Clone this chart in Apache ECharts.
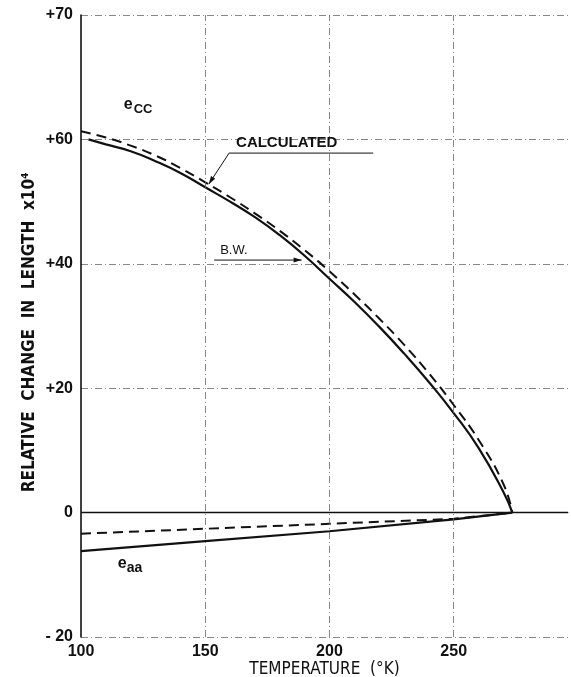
<!DOCTYPE html>
<html>
<head>
<meta charset="utf-8">
<script src="https://cdn.jsdelivr.net/npm/echarts@6/dist/echarts.min.js"></script>
<style>
html,body{margin:0;padding:0;background:#fff;}
#c{width:571px;height:677px;}
</style>
</head>
<body>
<div id="c"></div>
<script>
// ---- data ----
const tempCcBW   = [103, 110, 120, 130, 140, 150, 160, 170, 180, 190, 200, 210, 220, 230, 240, 250, 260, 270, 273.6];
const eccBW      = [60.0, 59.2, 58.1, 56.5, 54.6, 52.3, 50.0, 47.5, 44.6, 41.3, 37.6, 33.9, 29.9, 25.6, 21.0, 16.0, 10.4, 3.3, 0];
const tempCcCalc = [100, 110, 120, 130, 140, 150, 160, 170, 180, 190, 200, 210, 220, 230, 240, 250, 260, 270, 273.6];
const eccCalc    = [61.3, 60.3, 59.0, 57.4, 55.4, 53.1, 50.7, 48.1, 45.3, 42.2, 38.8, 35.1, 31.2, 27.0, 22.4, 17.3, 11.7, 4.6, 0];
const tempAa     = [100, 150, 200, 250, 273.6];
const eaaBW      = [-6.2, -4.6, -3.0, -1.1, 0];
const eaaCalc    = [-3.4, -2.6, -1.8, -1.0, 0];
const xTicks = [100, 150, 200, 250];
const xGridLines = [150, 200, 250];
// the reference's top grid line sits one 20-step above +60 but is printed "+70"
const yTickValues = [-20, 0, 20, 40, 60, 80];
const yTickLabels = ['- 20', '0', '+20', '+40', '+60', '+70'];

const FONT = "'Liberation Sans Narrow','DejaVu Sans Condensed','Liberation Sans',sans-serif";
const zip = (xs, ys) => xs.map((x, i) => [x, ys[i]]);

const chart = echarts.init(document.getElementById('c'), null, {renderer: 'canvas'});
const gridLineStyle = {color: '#6a6a6a', width: 0.8, type: [7, 3, 1, 3]};

chart.setOption({
  animation: false,
  backgroundColor: '#fff',
  grid: {left: 81, right: 0, top: 15, bottom: 40},
  xAxis: {
    type: 'value', min: 100, max: 296, interval: 50,
    axisLine: {show: true, lineStyle: {color: '#555', width: 1, type: [2, 1]}},
    axisTick: {show: false},
    splitLine: {show: false},
    axisLabel: {
      color: '#111', fontFamily: "'Liberation Sans',sans-serif", fontWeight: 'bold', fontSize: 16, margin: 7,
      formatter: v => xTicks.includes(v) ? String(v) : ''
    }
  },
  yAxis: {
    type: 'value', min: -20, max: 80, interval: 20,
    axisLine: {show: true, lineStyle: {color: '#000', width: 1.5}},
    axisTick: {show: false},
    splitLine: {show: true, lineStyle: gridLineStyle},
    axisLabel: {
      color: '#111', fontFamily: "'Liberation Sans',sans-serif", fontWeight: 'bold', fontSize: 16, margin: 8,
      formatter: v => { const i = yTickValues.indexOf(v); return i < 0 ? '' : yTickLabels[i]; }
    }
  },
  series: [
    {type: 'line', data: zip(tempCcBW, eccBW), smooth: 0.5, symbol: 'none',
     lineStyle: {color: '#111', width: 2.2},
     markLine: {silent: true, symbol: 'none', label: {show: false},
       lineStyle: {color: '#111', width: 1.3, type: 'solid'}, data: [{yAxis: 0}]}},
    {type: 'line', data: zip(tempCcCalc, eccCalc), smooth: 0.5, symbol: 'none',
     lineStyle: {color: '#111', width: 2, type: [10, 6]},
     markLine: {silent: true, symbol: 'none', label: {show: false},
       lineStyle: gridLineStyle, data: xGridLines.map(v => ({xAxis: v}))}},
    {type: 'line', data: zip(tempAa, eaaBW), symbol: 'none',
     lineStyle: {color: '#111', width: 2.2}},
    {type: 'line', data: zip(tempAa, eaaCalc), symbol: 'none',
     lineStyle: {color: '#111', width: 2, type: [10, 6]}}
  ]
});

// ---- annotations (anchored in data coordinates) ----
const P = (x, y) => chart.convertToPixel({gridIndex: 0}, [x, y]);
function arrowHead(tip, from, len, wid) {
  const dx = tip[0] - from[0], dy = tip[1] - from[1];
  const d = Math.hypot(dx, dy), ux = dx / d, uy = dy / d;
  const bx = tip[0] - ux * len, by = tip[1] - uy * len;
  return {type: 'polygon', shape: {points: [tip, [bx - uy * wid, by + ux * wid], [bx + uy * wid, by - ux * wid]]},
          style: {fill: '#111'}};
}
const ecc = P(117.2, 65.6);
const eaa = P(114.8, -8.2);
const calcText = P(162.4, 59.4);
const calcL0 = P(217.6, 57.8), calcL1 = P(159.6, 57.8), calcTip = P(151.4, 52.8);
const bwText = P(156.0, 42.1);
const bwL0 = P(153.6, 40.6), bwTip = P(188.8, 40.6);

const g = [];
g.push({type: 'text', x: ecc[0], y: ecc[1], style: {text: 'e', font: "bold 16px 'Liberation Sans',sans-serif", fill: '#111', textAlign: 'left', textVerticalAlign: 'middle'}});
g.push({type: 'text', x: ecc[0] + 10, y: ecc[1] + 5, style: {text: 'CC', font: "bold 13px 'Liberation Sans',sans-serif", fill: '#111', textAlign: 'left', textVerticalAlign: 'middle'}});
g.push({type: 'text', x: eaa[0], y: eaa[1], style: {text: 'e', font: "bold 16px 'Liberation Sans',sans-serif", fill: '#111', textAlign: 'left', textVerticalAlign: 'middle'}});
g.push({type: 'text', x: eaa[0] + 9, y: eaa[1] + 5, style: {text: 'aa', font: "bold 14px 'Liberation Sans',sans-serif", fill: '#111', textAlign: 'left', textVerticalAlign: 'middle'}});
g.push({type: 'text', x: calcText[0], y: calcText[1], style: {text: 'CALCULATED', font: "bold 15px 'Liberation Sans',sans-serif", fill: '#111', textAlign: 'left', textVerticalAlign: 'middle'}});
g.push({type: 'polyline', shape: {points: [calcL0, calcL1, calcTip]}, style: {stroke: '#111', lineWidth: 1, fill: null}});
g.push(arrowHead(calcTip, calcL1, 8, 2.5));
g.push({type: 'text', x: bwText[0], y: bwText[1], style: {text: 'B.W.', font: "13px 'Liberation Sans',sans-serif", fill: '#111', textAlign: 'left', textVerticalAlign: 'middle'}});
g.push({type: 'polyline', shape: {points: [bwL0, bwTip]}, style: {stroke: '#111', lineWidth: 1, fill: null}});
g.push(arrowHead(bwTip, bwL0, 8, 2.5));
// axis titles
const gb = chart.convertToPixel({gridIndex: 0}, [198, -20]);
g.push({type: 'text', x: gb[0], y: 670, style: {text: 'TEMPERATURE  (°K)', font: "17px " + FONT, fill: '#111', textAlign: 'center', textVerticalAlign: 'middle'}});
const ym = chart.convertToPixel({gridIndex: 0}, [100, 29]);
g.push({type: 'text', x: 30, y: ym[1], rotation: Math.PI / 2,
  style: {text: 'RELATIVE  CHANGE  IN  LENGTH  x10⁴', font: "bold 17px " + FONT, fill: '#111', textAlign: 'center', textVerticalAlign: 'middle'}});
chart.setOption({graphic: g});
</script>
</body>
</html>
